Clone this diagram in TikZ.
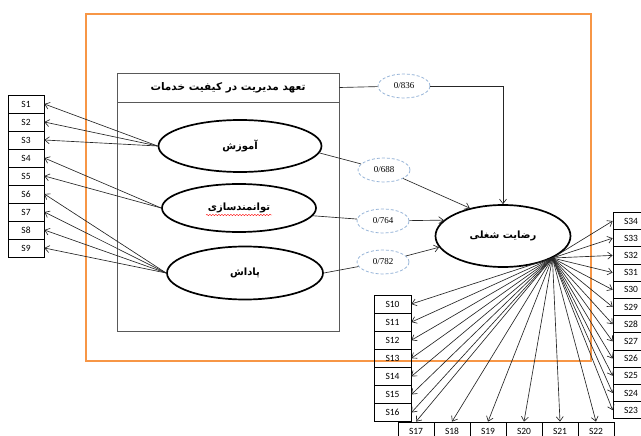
\documentclass[tikz,border=0pt]{standalone}
\usepackage{fontspec}
\setmainfont{Carlito}
\newfontfamily\fa[Script=Arabic]{DejaVu Sans}
\newfontfamily\numfont{Liberation Serif}
\TeXXeTstate=1
\usetikzlibrary{arrows.meta,shapes.geometric,decorations.pathmorphing}
\definecolor{orng}{HTML}{F79646}
\definecolor{dblue}{HTML}{95B3D7}
\definecolor{framegray}{HTML}{595959}
\begin{document}
\begin{tikzpicture}[x=1pt,y=-1pt,
  sbox/.style={draw=black, line width=0.7pt, minimum width=36pt, minimum height=18pt, inner sep=0pt, font=\fontsize{9.5}{11}\selectfont},
  latent/.style={ellipse, draw=black, line width=1.7pt, inner sep=0pt, font=\fa\bfseries\fontsize{10}{12}\selectfont},
  coef/.style={ellipse, draw=dblue, dash pattern=on 3pt off 2pt, line width=0.8pt, minimum width=52pt, minimum height=24pt, inner sep=0pt, font=\numfont\fontsize{9}{10}\selectfont},
  link/.style={draw=black!85, line width=0.65pt},
  arr/.style={link, -{Straight Barb[length=4.5pt,width=7pt]}}
]
\useasboundingbox (0,0) rectangle (641,436);
\draw[orng, line width=2pt] (86,14) rectangle (591,361);

% inner frame
\node[draw=framegray, line width=0.8pt, minimum width=222pt, minimum height=258pt, inner sep=0pt] (box) at (228,202) {};
\node[draw=framegray, line width=0.8pt, minimum width=222pt, minimum height=29pt, inner sep=0pt,
      font=\fa\bfseries\fontsize{10.5}{12}\selectfont] (hdr) at (228,87.5) {\beginR تعهد مدیریت در کیفیت خدمات\endR};

% latent variables
\node[latent, minimum width=163pt, minimum height=52pt] (e1) at (240,146) {\beginR آموزش\endR};
\node[latent, minimum width=154pt, minimum height=48pt] (e2) at (239,208) {\beginR توانمندسازی\endR};
\node[latent, minimum width=156pt, minimum height=53pt] (e3) at (245,273) {\beginR پاداش\endR};
\node[latent, minimum width=135pt, minimum height=62pt] (job) at (503,236) {\beginR رضایت شغلی\endR};
\draw[red, line width=0.4pt, decorate, decoration={snake, amplitude=0.7pt, segment length=3pt}] (206,215) -- (272,215);

% coefficients
\node[coef] (c836) at (404,86) {0/836};
\node[coef] (c688) at (384,170) {0/688};
\node[coef] (c764) at (383,221) {0/764};
\node[coef] (c782) at (383,262) {0/782};

% indicator boxes
\foreach \i in {1,...,9} \node[sbox] (s\i) at (26,{104+18*(\i-1)}) {S\i};
\foreach \i in {10,...,16} \node[sbox, minimum width=37pt] (s\i) at (392.5,{304+18.1*(\i-10)}) {S\i};
\foreach \i in {17,...,22} \node[sbox] (s\i) at ({416+36*(\i-17)},431) {S\i};
\foreach \i in {23,...,34} \node[sbox, minimum height=17.2pt] (s\i) at (631,{221+17.2*(34-\i)}) {S\i};

% structural paths
\draw[link] (hdr.east) -- (c836);
\draw[arr] (c836) -| (job.north);
\draw[link] (e1.-5) -- (c688);
\draw[arr] (c688) -- (job.140);
\draw[link] (e2.-6) -- (c764);
\draw[arr] (c764) -- (job.165);
\draw[link] (e3.east) -- (c782);
\draw[arr] (c782) -- (job.190);

% measurement paths
\foreach \i in {1,2,3} \draw[arr] (e1.west) -- (s\i.east);
\foreach \i in {4,5} \draw[arr] (e2.west) -- (s\i.east);
\foreach \i in {6,7,8,9} \draw[arr] (e3.west) -- (s\i.east);
\coordinate (fan) at (job.-24);
\foreach \i in {10,...,16} \draw[arr] (fan) -- (s\i.east);
\foreach \i in {17,...,22} \draw[arr] (fan) -- (s\i.north);
\foreach \i in {23,...,34} \draw[arr] (fan) -- (s\i.west);
\end{tikzpicture}
\end{document}
